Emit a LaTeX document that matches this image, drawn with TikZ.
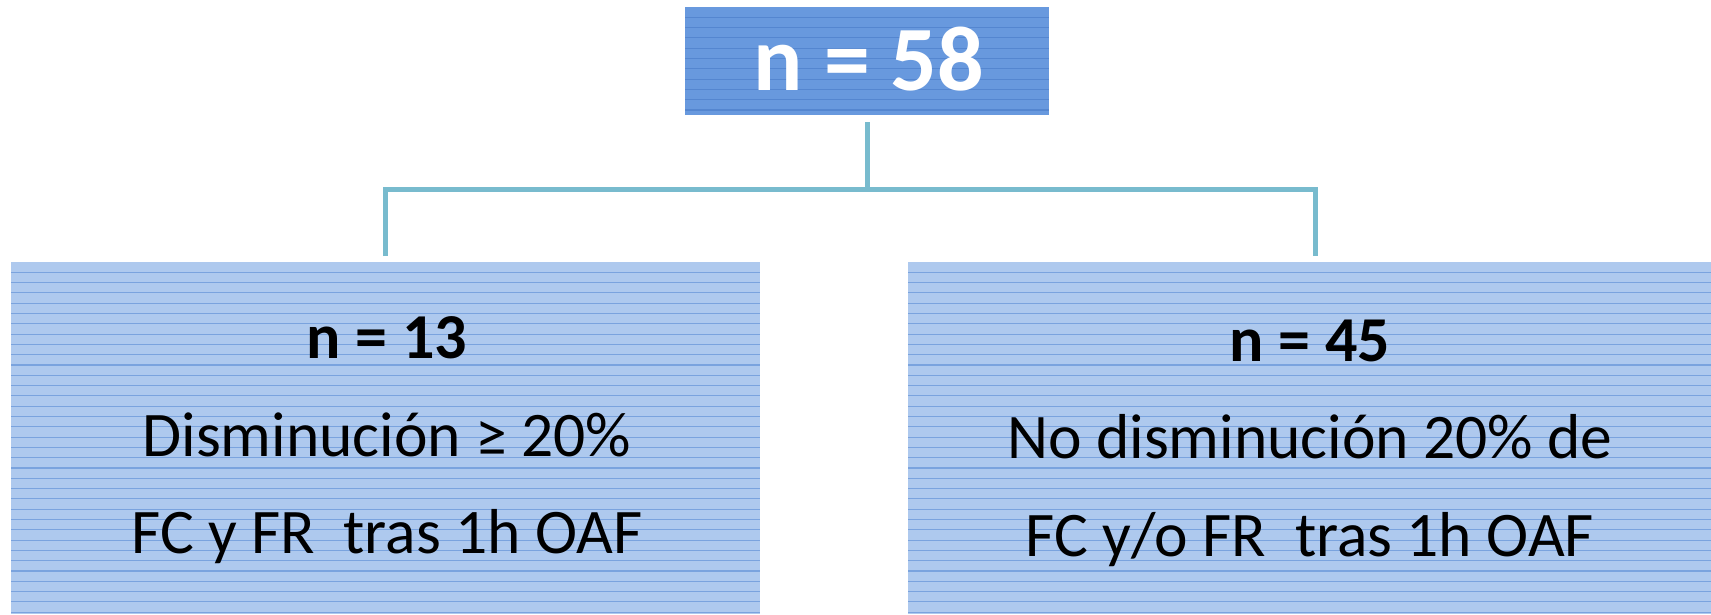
\documentclass[tikz,border=0pt]{standalone}
\usepackage{fontspec}
\setmainfont{Carlito}
\definecolor{topfill}{RGB}{104,153,222}
\definecolor{topline}{RGB}{84,134,208}
\definecolor{boxfill}{RGB}{174,201,238}
\definecolor{boxline}{RGB}{122,163,222}
\definecolor{conncol}{RGB}{120,187,206}
\tikzset{
  striped/.style={inner sep=0pt, outer sep=0pt, path picture={
      \foreach \i in {1,...,40}{
        \draw[#1, line width=1.1pt]
          ([yshift=-\i*10.3pt]path picture bounding box.north west) --
          ([yshift=-\i*10.3pt]path picture bounding box.north east);
      }}},
  topbox/.style={fill=topfill, striped=topline, minimum width=364pt, minimum height=108pt},
  lowbox/.style={fill=boxfill, striped=boxline, minimum height=352pt},
  conn/.style={draw=conncol, line width=5pt, line join=miter},
  big/.style={font=\fontsize{92}{110}\selectfont\bfseries, text=white, inner sep=0pt},
  hd/.style={font=\fontsize{64}{76}\selectfont\bfseries, anchor=base, inner sep=0pt},
  bd/.style={font=\fontsize{63.5}{76}\selectfont, anchor=base, inner sep=0pt}
}
\begin{document}
\begin{tikzpicture}[x=1pt,y=-1pt]
\useasboundingbox (0,0) rectangle (1711,614);
\node[topbox] (top) at (867,61) {};
\node[big] (t58) at (869,59) {n = 58};
\node[lowbox, minimum width=749pt] (L) at (385.5,438) {};
\node[lowbox, minimum width=803pt] (R) at (1309.5,438) {};
\node[hd] (l1) at (387,358) {n = 13};
\node[bd] (l2) at (387,456) {Disminución ≥ 20\%};
\node[bd] (l3) at (387,553) {FC y FR\ \ tras 1h OAF};
\node[hd] (r1) at (1310,361) {n = 45};
\node[bd] (r2) at (1310,458) {No disminución 20\% de};
\node[bd] (r3) at (1310,556) {FC y/o FR\ \ tras 1h OAF};
\coordinate (j) at (867,189.5);
\draw[conn] ([yshift=-7pt]top.south) -- (j);
\draw[conn] ([yshift=6pt]L.north) |- (j) -| ([xshift=6pt,yshift=6pt]R.north);
\end{tikzpicture}
\end{document}
